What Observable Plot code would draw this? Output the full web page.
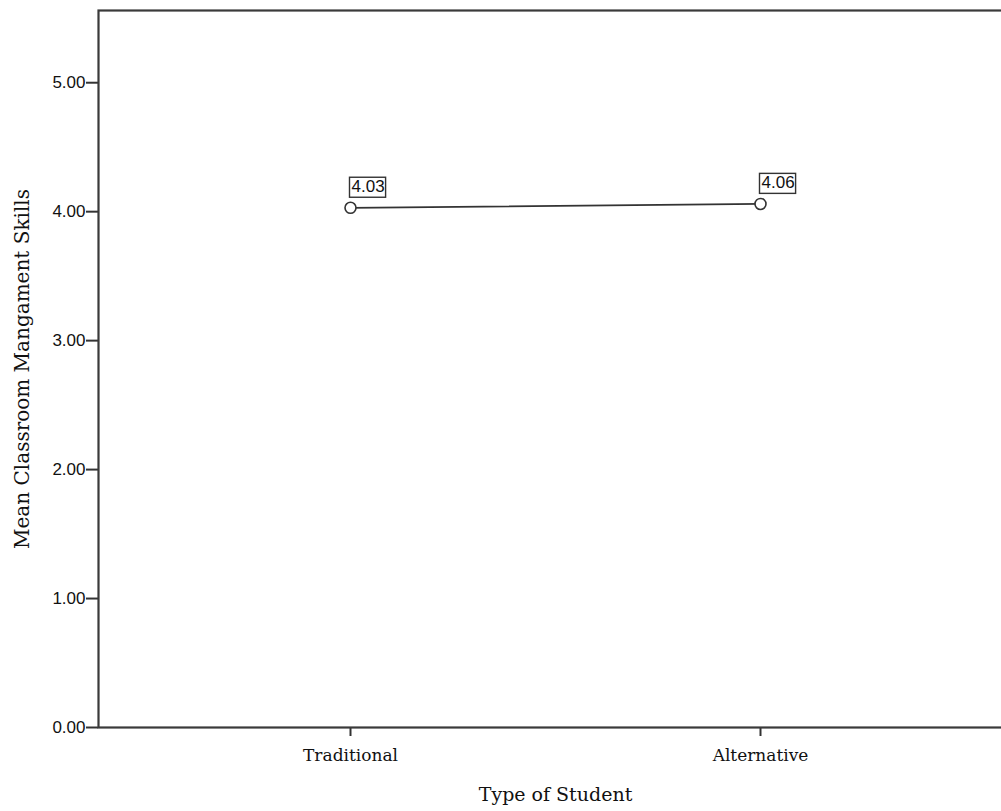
<!DOCTYPE html>
<html>
<head>
<meta charset="utf-8">
<script src="https://cdn.jsdelivr.net/npm/d3@7"></script>
<script src="https://cdn.jsdelivr.net/npm/@observablehq/plot@0.6"></script>
<style>
html, body { margin: 0; padding: 0; overflow: hidden; background: #fff; }
#chart svg { display: block; max-width: none !important; }
#chart g[aria-label*="y-axis"], #chart g[aria-label*="y-axis"] text { font-family: "Liberation Sans", Arial, sans-serif !important; font-size: 17px !important; }
#chart g[aria-label*="x-axis"], #chart g[aria-label*="x-axis"] text { font-family: "DejaVu Serif", serif !important; font-size: 17px !important; }
</style>
</head>
<body>
<div id="chart"></div>
<script>
const categories = ["Traditional", "Alternative"];
const means = [4.03, 4.06];
const yTicks = [0, 1, 2, 3, 4, 5];
const xLabel = "Type of Student";
const yLabel = "Mean Classroom Mangament Skills";

const data = categories.map((c, i) => ({type: c, mean: means[i]}));
const ink = "#333";

const chart = Plot.plot({
  width: 1030,
  height: 811,
  marginLeft: 98,
  marginRight: 18,
  marginTop: 10,
  marginBottom: 84,
  style: {background: "#fff", color: ink, fontSize: "15px"},
  x: {type: "point", domain: categories, padding: 0.6146, label: null},
  y: {domain: [0, 5.56], label: null},
  marks: [
    Plot.axisY({ticks: yTicks, tickFormat: d3.format(".2f"), tickSize: 12, tickPadding: 1,
      stroke: ink, strokeWidth: 2, fill: "#111", label: null}),
    Plot.axisX({tickSize: 9, tickPadding: 12, stroke: ink, strokeWidth: 2, fill: "#111", label: null}),
    Plot.frame({stroke: "#3a3a3a", strokeWidth: 2.2}),
    Plot.line(data, {x: "type", y: "mean", stroke: ink, strokeWidth: 1.8}),
    Plot.dot(data, {x: "type", y: "mean", r: 5.5, stroke: ink, strokeWidth: 1.6, fill: "#fff"}),
    Plot.text(data, {x: "type", y: "mean", text: d => d.mean.toFixed(2), textAnchor: "start",
      dx: 1, dy: -21, fontSize: 17, fontFamily: "Liberation Sans, Arial, sans-serif", fill: "#111",
      className: "vlabel"}),
    Plot.text([xLabel], {frameAnchor: "bottom", dy: 73, fontSize: 19,
      fontFamily: "DejaVu Serif, serif", fill: "#111"}),
    Plot.text([yLabel], {frameAnchor: "left", textAnchor: "middle", dx: -76, rotate: -90, fontSize: 20,
      fontFamily: "DejaVu Serif, serif", fill: "#111"})
  ]
});
document.getElementById("chart").appendChild(chart);

// draw boxes around value labels
chart.querySelectorAll("g.vlabel text").forEach(t => {
  const b = t.getBBox();
  const ctm = t.getAttribute("transform");
  const r = document.createElementNS("http://www.w3.org/2000/svg", "rect");
  r.setAttribute("x", b.x - 2);
  r.setAttribute("y", b.y);
  r.setAttribute("width", b.width + 3);
  r.setAttribute("height", b.height + 1);
  r.setAttribute("fill", "none");
  r.setAttribute("stroke", "#333");
  r.setAttribute("stroke-width", "1.4");
  if (ctm) r.setAttribute("transform", ctm);
  t.parentNode.insertBefore(r, t);
});
</script>
</body>
</html>
